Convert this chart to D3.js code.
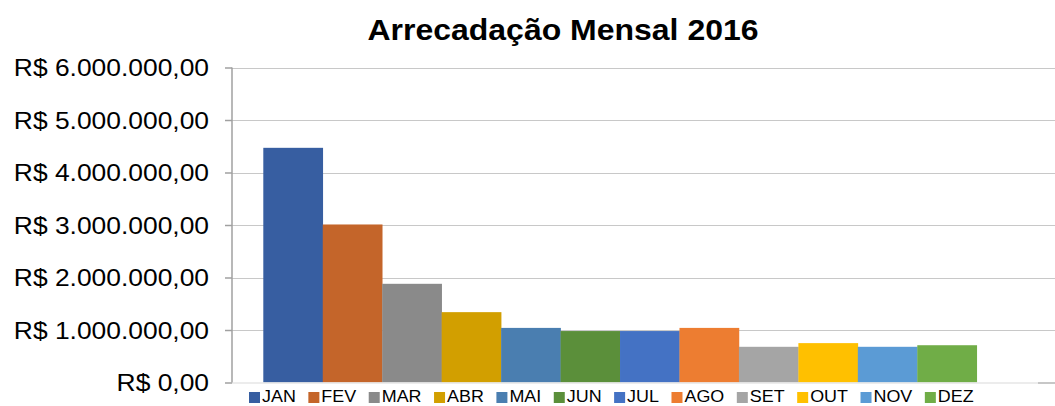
<!DOCTYPE html>
<html>
<head>
<meta charset="utf-8">
<script src="https://cdn.jsdelivr.net/npm/d3@7"></script>
<style>
  body { margin: 0; background: #fff; }
  text { font-family: "Liberation Sans", Arial, sans-serif; fill: #000; }
</style>
</head>
<body>
<svg id="chart" width="1055" height="406"></svg>
<script>
  // months and their totals (R$)
  var months = ["JAN", "FEV", "MAR", "ABR", "MAI", "JUN", "JUL", "AGO", "SET", "OUT", "NOV", "DEZ"];
  var values = [4470000, 3010000, 1880000, 1340000, 1040000, 980000, 980000, 1040000, 680000, 750000, 680000, 710000];
  var colors = ["#375ea1", "#c4652a", "#8a8a8a", "#d29f00", "#4a7eb0", "#5b8f3a",
                "#4472c4", "#ed7d31", "#a5a5a5", "#ffc000", "#5b9bd5", "#70ad47"];
  var yTicks = [0, 1000000, 2000000, 3000000, 4000000, 5000000, 6000000];
  var title = "Arrecadação Mensal 2016";

  var svg = d3.select("#chart");

  var br = d3.formatLocale({decimal: ",", thousands: ".", grouping: [3], currency: ["R$ ", ""]});
  var fmt = br.format("$,.2f");

  var y = d3.scaleLinear().domain([0, 6000000]).range([382.5, 67.5]);
  // one empty slot after DEZ, like the source chart
  var x = d3.scaleBand().domain(months.concat(["_"])).range([263.3, 1036.2]).padding(0);

  // gridlines
  svg.append("g")
    .selectAll("line")
    .data(yTicks.slice(1))
    .enter().append("line")
    .attr("x1", 232).attr("x2", 1055)
    .attr("y1", function(d) { return Math.round(y(d)) + 0.5; })
    .attr("y2", function(d) { return Math.round(y(d)) + 0.5; })
    .attr("stroke", "#c8c8c8").attr("stroke-width", 1.2);

  // bars
  svg.append("g")
    .selectAll("rect")
    .data(months)
    .enter().append("rect")
    .attr("x", function(d) { return x(d); })
    .attr("width", x.bandwidth() + 0.3)
    .attr("y", function(d, i) { return y(values[i]); })
    .attr("height", function(d, i) { return y(0) - y(values[i]); })
    .attr("fill", function(d, i) { return colors[i]; });

  // x baseline
  svg.append("line")
    .attr("x1", 232).attr("x2", 1038).attr("y1", 383).attr("y2", 383)
    .attr("stroke", "#e6e6e6").attr("stroke-width", 1.5);
  svg.append("line")
    .attr("x1", 1038).attr("x2", 1055).attr("y1", 383).attr("y2", 383)
    .attr("stroke", "#b4b4b4").attr("stroke-width", 1.5);

  // y axis
  var yAxis = svg.append("g").attr("transform", "translate(232,0)")
    .call(d3.axisLeft(y).tickValues(yTicks).tickSize(7).tickFormat(""));
  yAxis.select(".domain").attr("stroke", "#a0a0a0").attr("stroke-width", 1.5)
    .attr("d", "M0," + y(6000000) + "V" + y(0));
  yAxis.selectAll(".tick line").attr("stroke", "#a0a0a0").attr("stroke-width", 1.5);

  // tick labels (slightly wide, as in the source)
  svg.append("g")
    .selectAll("text")
    .data(yTicks)
    .enter().append("text")
    .attr("transform", function(d) { return "translate(209," + (y(d) + 8.5) + ") scale(1.1,1)"; })
    .attr("text-anchor", "end")
    .style("font-size", "24px")
    .text(function(d) { return fmt(d); });

  // title
  svg.append("text")
    .attr("transform", "translate(563,40) scale(1.066,1)")
    .attr("text-anchor", "middle")
    .style("font-size", "30px").style("font-weight", "bold")
    .text(title);

  // legend
  var legend = svg.append("g");
  var items = legend.selectAll("g")
    .data(months)
    .enter().append("g");
  items.append("rect")
    .attr("width", 11).attr("height", 11).attr("y", 392)
    .attr("fill", function(d, i) { return colors[i]; });
  items.append("text")
    .attr("y", 402.5)
    .style("font-size", "16px")
    .text(function(d) { return d; });

  var cx = 0;
  items.each(function() {
    var g = d3.select(this);
    var w = g.select("text").node().getComputedTextLength() * 1.12;
    g.attr("transform", "translate(" + cx + ",0)");
    g.select("text").attr("transform", "translate(13,0) scale(1.12,1)");
    cx += 13 + w + 12.5;
  });
  legend.attr("transform", "translate(249,0)");
</script>
</body>
</html>
